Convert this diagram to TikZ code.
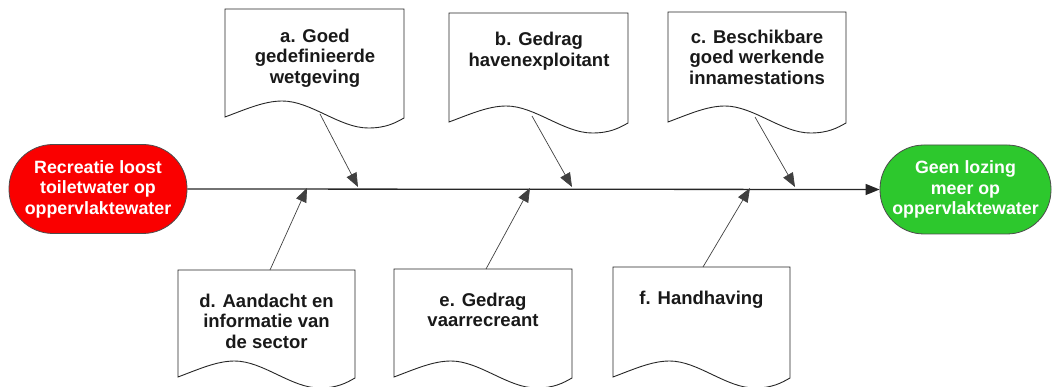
\documentclass[tikz,border=0pt]{standalone}
\usepackage{fontspec}
\setmainfont{Liberation Sans}
\usetikzlibrary{arrows.meta}
\definecolor{srcred}{RGB}{250,0,0}
\definecolor{dstgreen}{RGB}{45,200,45}
\newcommand{\wavedoc}[4]{%
  \draw[docline] (#1,#3) -- (#2,#3) -- (#2,{#4+1})
    .. controls ({#2-0.05*(#2-#1)},{#4+6}) and ({#1+0.9*(#2-#1)},{#4+11}) .. ({#1+0.8*(#2-#1)},{#4+11})
    .. controls ({#1+0.64*(#2-#1)},{#4+11}) and ({#1+0.48*(#2-#1)},{#4-16}) .. ({#1+0.32*(#2-#1)},{#4-16})
    .. controls ({#1+0.22*(#2-#1)},{#4-16}) and ({#1+0.12*(#2-#1)},{#4-8}) .. (#1,#4) -- cycle;}
\begin{document}
\begin{tikzpicture}[x=1pt,y=-1pt,
  docline/.style={draw=black!85, line width=0.9pt, fill=white},
  doctext/.style={align=center, inner sep=0pt, font=\fontsize{18.5}{20.5}\selectfont\bfseries, text=black!90},
  terminal/.style={draw=black!70, line width=0.8pt, rounded corners=44pt, minimum width=178pt, minimum height=89pt, inner sep=0pt, align=center, text=white, font=\fontsize{17.8}{20.5}\selectfont\bfseries},
  spine/.style={draw=black!85, line width=1.3pt, -{Triangle[length=14pt,width=11pt]}},
  cause/.style={draw=black!75, line width=0.7pt, -{Triangle[length=14pt,width=11pt]}}]
\useasboundingbox (0,0) rectangle (1052,387);
% terminals
\node[terminal, fill=srcred] (src) at (98,189) {Recreatie loost\\toiletwater op\\oppervlaktewater};
\node[terminal, fill=dstgreen, minimum width=171pt] (dst) at (965.5,189.5) {Geen lozing\\meer op\\oppervlaktewater};
% spine
\draw[spine] (src.east) -- (dst.west);
% top documents
\wavedoc{225}{404}{9}{117}
\node[doctext] (ta) at (315,58) {a. Goed\\gedefinieerde\\wetgeving};
\wavedoc{449}{628}{13}{122}
\node[doctext] (tb) at (539,51) {b. Gedrag\\havenexploitant};
\wavedoc{668}{846}{12}{122}
\node[doctext] (tc) at (757,57) {c. Beschikbare\\goed werkende\\innamestations};
% bottom documents
\wavedoc{178}{355}{270}{377}
\node[doctext] (td) at (266.5,321) {d. Aandacht en\\informatie van\\de sector};
\wavedoc{394}{572}{269}{377}
\node[doctext] (te) at (483,310) {e. Gedrag\\vaarrecreant};
\wavedoc{613}{790}{267}{377}
\node[doctext] (tf) at (701.5,300) {f. Handhaving};
% connector end points
\coordinate (aS) at (320,114);
\coordinate (aE) at (358,187);
\coordinate (bS) at (532,116);
\coordinate (bE) at (572,187);
\coordinate (cS) at (755,117);
\coordinate (cE) at (795,187);
\coordinate (dS) at (270,270);
\coordinate (dE) at (307,188);
\coordinate (eS) at (486,269);
\coordinate (eE) at (530,188);
\coordinate (fS) at (703,267);
\coordinate (fE) at (750,188);
\draw[cause] (aS) -- (aE);
\draw[cause] (bS) -- (bE);
\draw[cause] (cS) -- (cE);
\draw[cause] (dS) -- (dE);
\draw[cause] (eS) -- (eE);
\draw[cause] (fS) -- (fE);
\end{tikzpicture}
\end{document}
